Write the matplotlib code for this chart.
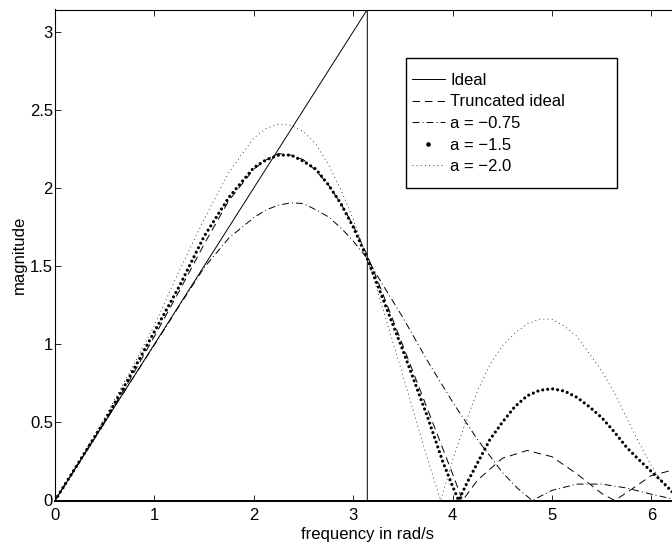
import numpy as np
import matplotlib
matplotlib.use("Agg")
import matplotlib.pyplot as plt
from matplotlib.lines import Line2D
from matplotlib.patches import Rectangle

plt.rcParams['font.family'] = ['Liberation Sans', 'DejaVu Sans']
plt.rcParams['lines.scale_dashes'] = False

# --- DATA ---
# ideal differentiator: |w| up to pi, zero beyond
ideal_w = [0, np.pi, np.pi, 2 * np.pi]
ideal_m = [0, np.pi, 0, 0]

# truncated ideal
trunc_w = [0, 0.25, 0.5, 0.75, 1.0, 1.25, 1.5, 1.75, 2.0, 2.125, 2.25, 2.375, 2.5,
           2.625, 2.75, 2.875, 3.0, 3.14, 3.25, 3.5, 3.75, 4.0, 4.1, 4.25, 4.5,
           4.75, 5.0, 5.25, 5.5, 5.63, 5.75, 6.0, 6.25, 6.283]
trunc_m = [0, 0.25, 0.505, 0.77, 1.05, 1.34, 1.64, 1.92, 2.12, 2.18, 2.22, 2.21, 2.18,
           2.11, 2.02, 1.90, 1.76, 1.57, 1.40, 0.99, 0.58, 0.17, 0.0, 0.13, 0.27,
           0.32, 0.28, 0.17, 0.045, 0.0, 0.05, 0.16, 0.20, 0.20]

# a = -0.75
a075_w = [0, 0.25, 0.5, 0.75, 1.0, 1.25, 1.5, 1.75, 2.0, 2.125, 2.25, 2.375, 2.5,
          2.625, 2.75, 2.875, 3.0, 3.14, 3.25, 3.5, 3.75, 4.0, 4.25, 4.5, 4.65,
          4.8, 5.0, 5.25, 5.5, 5.75, 6.0, 6.283]
a075_m = [0, 0.25, 0.50, 0.75, 0.995, 1.245, 1.49, 1.68, 1.81, 1.86, 1.89, 1.905, 1.90,
          1.86, 1.815, 1.745, 1.66, 1.55, 1.43, 1.17, 0.89, 0.63, 0.39, 0.18, 0.08,
          0.0, 0.065, 0.105, 0.105, 0.08, 0.04, 0.0]

# a = -1.5
a15_w = [0, 0.25, 0.5, 0.75, 1.0, 1.25, 1.5, 1.75, 2.0, 2.125, 2.25, 2.375, 2.5,
         2.625, 2.75, 2.875, 3.0, 3.14, 3.25, 3.5, 3.75, 3.9, 4.0, 4.06, 4.15,
         4.25, 4.375, 4.5, 4.625, 4.75, 4.875, 5.0, 5.125, 5.25, 5.375, 5.5,
         5.625, 5.75, 5.875, 6.0, 6.125, 6.25, 6.283]
a15_m = [0, 0.255, 0.51, 0.79, 1.08, 1.37, 1.69, 1.94, 2.13, 2.18, 2.21, 2.21, 2.17,
         2.12, 2.02, 1.90, 1.75, 1.55, 1.37, 0.96, 0.53, 0.25, 0.09, 0.0, 0.12,
         0.24, 0.39, 0.50, 0.60, 0.67, 0.705, 0.715, 0.70, 0.66, 0.60, 0.53,
         0.44, 0.34, 0.26, 0.185, 0.11, 0.03, 0.0]

# a = -2.0
a20_w = [0, 0.25, 0.5, 0.75, 1.0, 1.25, 1.5, 1.75, 2.0, 2.125, 2.25, 2.375, 2.5,
         2.625, 2.75, 2.875, 3.0, 3.14, 3.25, 3.5, 3.75, 3.88, 4.0, 4.125, 4.25,
         4.375, 4.5, 4.625, 4.75, 4.875, 5.0, 5.125, 5.25, 5.375, 5.5, 5.625,
         5.75, 5.875, 6.0, 6.125, 6.25, 6.283]
a20_m = [0, 0.26, 0.53, 0.82, 1.12, 1.47, 1.80, 2.10, 2.32, 2.38, 2.41, 2.40, 2.36,
         2.28, 2.15, 1.99, 1.80, 1.55, 1.33, 0.80, 0.26, 0.0, 0.26, 0.49, 0.70,
         0.87, 0.99, 1.07, 1.13, 1.16, 1.16, 1.115, 1.05, 0.94, 0.83, 0.69,
         0.53, 0.37, 0.22, 0.10, 0.02, 0.0]

labels = ['Ideal', 'Truncated ideal', 'a = \u22120.75', 'a = \u22121.5', 'a = \u22122.0']

W, H = 672, 543
FS = 12
fig = plt.figure(figsize=(W / 100, H / 100), dpi=100)
# axes runs to 2*pi, which lies just past the right edge of the picture
ax = fig.add_axes([55 / W, 1 - 500.5 / H, 624.6 / W, 491 / H])

lw = 0.7
ax.plot(ideal_w, ideal_m, color='k', lw=lw, ls='-')
ax.plot(trunc_w, trunc_m, color='k', lw=lw, ls=(0, (5.4, 3.6)))
ax.plot(a075_w, a075_m, color='k', lw=lw, ls=(0, (5, 2.2, 0.7, 2.2)))
ax.plot(a15_w, a15_m, color='k', lw=2.3, ls=(0, (0.01, 3.6)), dash_capstyle='round')
ax.plot(a20_w, a20_m, color='k', lw=0.6, ls=(0, (0.6, 2.4)))

ax.set_xlim(0, 2 * np.pi)
ax.set_ylim(0, np.pi)
ax.set_xticks(range(7))
ax.set_yticks([0, 0.5, 1, 1.5, 2, 2.5, 3])
ax.set_yticklabels(['0', '0.5', '1', '1.5', '2', '2.5', '3'])
ax.tick_params(direction='in', top=True, right=True, length=4.5, width=0.6,
               labelsize=FS)
ax.tick_params(axis='x', pad=5.5)
ax.tick_params(axis='y', pad=1.5)
for s in ax.spines.values():
    s.set_linewidth(0.8)
ax.spines['bottom'].set_linewidth(1.4)
ax.set_xlabel('frequency in rad/s', fontsize=FS, labelpad=3)
ax.set_ylabel('magnitude', fontsize=FS, labelpad=2)

# legend: box drawn separately to get the wide Matlab-style frame
box = Rectangle((405.7 / W, 1 - 187.7 / H), 211.6 / W, 129.4 / H,
                transform=fig.transFigure, facecolor='white', edgecolor='k',
                lw=1.0, zorder=5, clip_on=False)
ax.add_patch(box)
handles = [
    Line2D([], [], color='k', lw=lw, ls='-'),
    Line2D([], [], color='k', lw=lw, ls=(0, (5.4, 3.6))),
    Line2D([], [], color='k', lw=lw, ls=(0, (5, 2.2, 0.7, 2.2))),
    Line2D([], [], color='k', ls='none', marker='o', ms=2.3),
    Line2D([], [], color='k', lw=0.6, ls=(0, (0.6, 2.4))),
]
leg = ax.legend(handles, labels, loc='upper left',
                bbox_to_anchor=(412 / W, 1 - 73 / H), bbox_transform=fig.transFigure,
                frameon=False, borderpad=0, borderaxespad=0, handlelength=1.95,
                handletextpad=0.35, labelspacing=0.39, fontsize=FS)
leg.set_zorder(6)

fig.savefig('out.png', dpi=100)
